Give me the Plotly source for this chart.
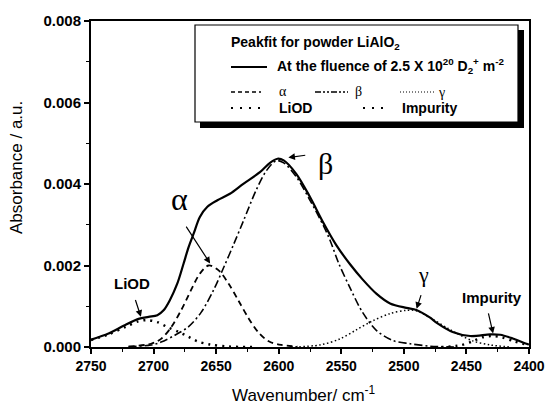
import plotly.graph_objects as go

# ---------------- data ----------------
main_x = [2750, 2736, 2724, 2712, 2704, 2697, 2692, 2687, 2681, 2676, 2672, 2668, 2663,
          2657, 2649, 2639, 2628, 2615, 2607, 2601, 2596, 2586, 2575, 2564, 2554, 2543,
          2533, 2522, 2511, 2498, 2490, 2479, 2474, 2461, 2447, 2431, 2423, 2413, 2402, 2400]
main_y = [0.00018, 0.00033, 0.00052, 0.00069, 0.00074, 0.00078, 0.00090, 0.00115, 0.00156,
          0.00205, 0.00245, 0.00278, 0.00319, 0.00344, 0.00360, 0.00376, 0.00401, 0.00429,
          0.00452, 0.00462, 0.00458, 0.00425, 0.00368, 0.00303, 0.00250, 0.00203, 0.00166,
          0.00131, 0.00107, 0.00096, 0.00091, 0.00072, 0.00060, 0.00037, 0.00027, 0.00031,
          0.00030, 0.00021, 0.00008, 0.00006]

alpha_x = [2720, 2702, 2694, 2686, 2678, 2670, 2663, 2656, 2648, 2640, 2632, 2624, 2616,
           2608, 2598, 2585]
alpha_y = [0.00001, 0.00008, 0.00020, 0.00048, 0.00090, 0.00140, 0.00180, 0.00200, 0.00188,
           0.00155, 0.00113, 0.00070, 0.00035, 0.00014, 0.00005, 0.00001]

beta_x = [2720, 2702, 2694, 2683, 2672, 2662, 2652, 2644, 2636, 2628, 2618, 2610, 2602, 2596,
          2586, 2575, 2564, 2559, 2552, 2543, 2533, 2522, 2509, 2495, 2479, 2460]
beta_y = [0.00001, 0.00005, 0.00012, 0.00029, 0.00050, 0.00085, 0.00140, 0.00195, 0.00252,
          0.00311, 0.00385, 0.00432, 0.00457, 0.00452, 0.00418, 0.00360, 0.00296, 0.00262,
          0.00205, 0.00145, 0.00085, 0.00041, 0.00016, 0.00008, 0.00002, 0.0]

gamma_x = [2590, 2567, 2551, 2538, 2525, 2511, 2498, 2490, 2477, 2465, 2458, 2445, 2431, 2415]
gamma_y = [0.0, 0.00005, 0.00020, 0.00042, 0.00064, 0.00082, 0.00090, 0.00089, 0.00068,
           0.00046, 0.00034, 0.00015, 0.00005, 0.0]

liod_x = [2750, 2736, 2722, 2712, 2705, 2697, 2689, 2680, 2672, 2665, 2655, 2640, 2620]
liod_y = [0.00017, 0.00031, 0.00050, 0.00063, 0.00066, 0.00061, 0.00049, 0.00037, 0.00025,
          0.00014, 0.00006, 0.00001, 0.0]

imp_x = [2470, 2455, 2445, 2437, 2430, 2422, 2412, 2400]
imp_y = [0.0, 0.00004, 0.00014, 0.00024, 0.00027, 0.00024, 0.00014, 0.00004]

x_ticks = [2750, 2700, 2650, 2600, 2550, 2500, 2450, 2400]
y_ticks = [0.000, 0.002, 0.004, 0.006, 0.008]

# ---------------- layout helpers ----------------
W, H = 549, 405
ML, MR, MT, MB = 91, 20, 21, 58
PW, PH = W - ML - MR, H - MT - MB


def px(x):
    return (x - ML) / PW


def py(y):
    return (H - MB - y) / PH


AX_FONT = "Liberation Sans, Arial, sans-serif"
SERIF = "Liberation Serif, Times New Roman, serif"

fig = go.Figure()


def add(xs, ys, dash, width):
    fig.add_trace(go.Scatter(x=xs, y=ys, mode="lines",
                             line=dict(color="black", width=width, dash=dash,
                                       shape="spline", smoothing=0.9),
                             showlegend=False, hoverinfo="skip"))


add(liod_x, liod_y, "2px,5px", 2.5)
add(imp_x, imp_y, "2px,5px", 2.5)
add(alpha_x, alpha_y, "6px,4px", 1.8)
add(beta_x, beta_y, "8px,3px,2px,3px", 1.6)
add(gamma_x, gamma_y, "1.5px,2.5px", 1.5)
add(main_x, main_y, "solid", 2.2)

annotations = []
shapes = []


# ------------- in-plot labels with arrows -------------
def label(text, x, y, size, font, bold=False):
    t = f"<b>{text}</b>" if bold else text
    annotations.append(dict(x=x, y=y, xref="x", yref="y", text=t, showarrow=False,
                            font=dict(size=size, family=font, color="black"),
                            xanchor="center", yanchor="middle"))


def arrow(x0, y0, x1, y1):
    annotations.append(dict(x=x1, y=y1, ax=x0, ay=y0, xref="x", yref="y",
                            axref="x", ayref="y", text="", showarrow=True,
                            arrowhead=2, arrowsize=1.1, arrowwidth=1.2,
                            arrowcolor="black"))


label("LiOD", 2717.5, 0.00156, 15, AX_FONT, bold=True)
arrow(2714.9, 0.00119, 2710.1, 0.00074)
label("α", 2679.5, 0.00362, 32, SERIF)
arrow(2674.7, 0.00299, 2654.8, 0.00205)
label("β", 2563.0, 0.00451, 30, SERIF)
arrow(2577.6, 0.00471, 2592.3, 0.00465)
label("γ", 2484.0, 0.00178, 22, SERIF)
arrow(2485.9, 0.00131, 2489.8, 0.00094)
label("Impurity", 2429.4, 0.00122, 15, AX_FONT, bold=True)
arrow(2432.7, 0.00086, 2428.7, 0.00033)

# ------------- axis titles -------------
annotations.append(dict(x=px(17), y=py(168), xref="paper", yref="paper",
                        text="Absorbance / a.u.", textangle=-90, showarrow=False,
                        xanchor="center", yanchor="middle",
                        font=dict(size=17, family=AX_FONT, color="black")))
annotations.append(dict(x=px(304), y=py(394), xref="paper", yref="paper",
                        text="Wavenumber/ cm<sup>-1</sup>", showarrow=False,
                        xanchor="center", yanchor="middle",
                        font=dict(size=17, family=AX_FONT, color="black")))

# ------------- custom legend box -------------
shapes.append(dict(type="rect", xref="paper", yref="paper",
                   x0=px(200), x1=px(524), y0=py(128), y1=py(30),
                   fillcolor="black", line=dict(width=0), layer="above"))
shapes.append(dict(type="rect", xref="paper", yref="paper",
                   x0=px(195), x1=px(518), y0=py(122), y1=py(25),
                   fillcolor="white", line=dict(color="black", width=1.2), layer="above"))


def ltext(text, x, y, size=14, font=AX_FONT, bold=True):
    t = f"<b>{text}</b>" if bold else text
    annotations.append(dict(x=px(x), y=py(y), xref="paper", yref="paper", text=t,
                            showarrow=False, xanchor="left", yanchor="middle",
                            font=dict(size=size, family=font, color="black")))


def lline(x0, x1, y, dash, width):
    shapes.append(dict(type="line", xref="paper", yref="paper",
                       x0=px(x0), x1=px(x1), y0=py(y), y1=py(y), layer="above",
                       line=dict(color="black", width=width, dash=dash)))


ltext("Peakfit for powder LiAlO<sub>2</sub>", 229, 43)
lline(231, 267, 67, "solid", 2)
ltext("At the fluence of 2.5 X 10<sup>20</sup> D<sub>2</sub><sup>+</sup> m<sup>-2</sup>", 275, 66)
lline(231, 261, 92, "4px,3px", 1.5)
ltext("α", 277, 92, 14, SERIF, bold=False)
lline(315, 348, 92, "6px,2px,2px,2px,2px,2px", 1.5)
ltext("β", 353, 92, 14, SERIF, bold=False)
lline(400, 434, 92, "1px,2px", 1.2)
ltext("γ", 436, 93, 14, SERIF, bold=False)
lline(231, 261, 108, "2px,7px", 2)
ltext("LiOD", 277, 108)
lline(363, 389, 108, "2px,7px", 2)
ltext("Impurity", 400, 108)

fig.update_layout(
    width=W, height=H,
    margin=dict(l=ML, r=MR, t=MT, b=MB, pad=0),
    paper_bgcolor="white", plot_bgcolor="white",
    showlegend=False,
    annotations=annotations, shapes=shapes,
    xaxis=dict(range=[2750, 2400], tickvals=x_ticks, automargin=False,
               ticktext=[f"<b>{v}</b>" for v in x_ticks],
               tickfont=dict(size=14, family=AX_FONT, color="black"),
               ticks="outside", ticklen=5, tickwidth=1.5, tickcolor="black",
               minor=dict(tickvals=[v - 25 for v in x_ticks[:-1]], ticks="outside",
                          ticklen=3, tickwidth=1.2, tickcolor="black"),
               showline=True, linewidth=2, linecolor="black", mirror=True,
               showgrid=False, zeroline=False),
    yaxis=dict(range=[0, 0.008], tickvals=y_ticks, automargin=False,
               ticktext=[f"<b>{v:.3f}</b>" for v in y_ticks],
               tickfont=dict(size=15, family=AX_FONT, color="black"),
               ticks="outside", ticklen=5, tickwidth=1.5, tickcolor="black",
               minor=dict(tickvals=[v + 0.001 for v in y_ticks[:-1]], ticks="outside",
                          ticklen=3, tickwidth=1.2, tickcolor="black"),
               showline=True, linewidth=2, linecolor="black", mirror=True,
               showgrid=False, zeroline=False),
)

fig.write_html("out.html")
